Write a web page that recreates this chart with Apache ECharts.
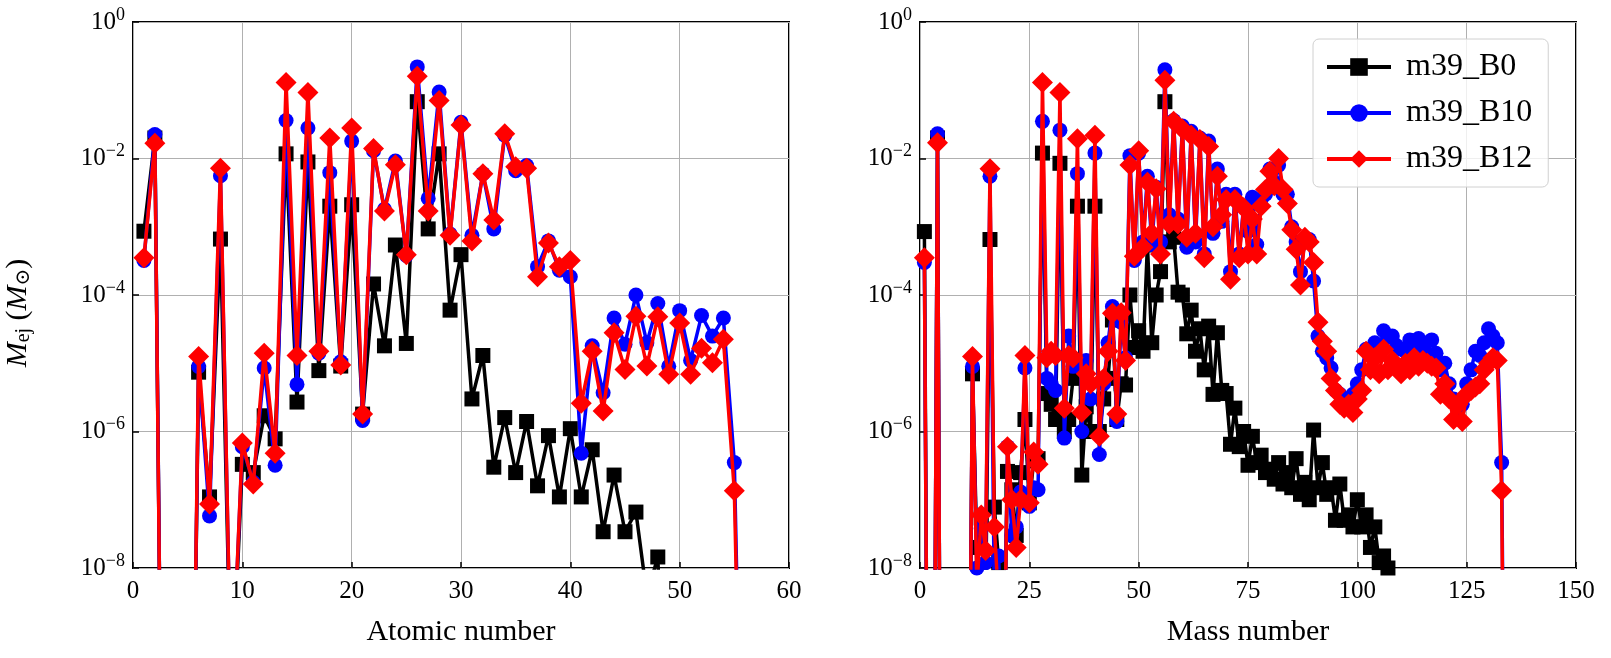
<!DOCTYPE html>
<html><head><meta charset="utf-8">
<script src="https://cdn.jsdelivr.net/npm/echarts@6/dist/echarts.min.js"></script>
<style>html,body{margin:0;padding:0;background:#fff;}#c{width:1611px;height:658px;}</style>
</head><body><div id="c"></div>
<script>
// ---------- data (left: by atomic number Z = 1..56) ----------
const atomicNumber = Array.from({length: 56}, (_, i) => i + 1);
const zB0 = [8.6e-4,2.0e-2,1e-17,1e-17,1e-17,7.4e-6,1.1e-7,6.6e-4,1e-10,3.3e-7,
  2.5e-7,1.7e-6,7.8e-7,1.17e-2,2.7e-6,8.9e-3,7.8e-6,2e-3,9.1e-6,2.1e-3,
  1.8e-6,1.45e-4,1.8e-5,5.4e-4,1.95e-5,6.8e-2,9.3e-4,1.17e-2,6e-5,3.9e-4,
  3e-6,1.3e-5,3e-7,1.6e-6,2.5e-7,1.4e-6,1.6e-7,8.7e-7,1.1e-7,1.1e-6,
  1.1e-7,5.4e-7,3.4e-8,2.3e-7,3.4e-8,6.6e-8,4e-9,1.45e-8,1e-12,1e-12,
  1e-12,1e-12,1e-12,1e-12,1e-12,1e-12];
const zB10 = [3.2e-4,2.25e-2,1e-17,1e-17,1e-17,9e-6,5.8e-8,5.6e-3,1e-10,6e-7,
  1.8e-7,8.5e-6,3.2e-7,3.6e-2,4.9e-6,2.8e-2,1.4e-5,6.2e-3,1.05e-5,1.8e-2,
  1.45e-6,1.3e-2,1.8e-3,9.2e-3,3.8e-4,2.2e-1,2.6e-3,9.4e-2,7.8e-4,3.4e-2,
  7.5e-4,6e-3,9.3e-4,2.2e-2,6.6e-3,7.9e-3,2.6e-4,6.2e-4,2.3e-4,1.85e-4,
  4.8e-7,1.8e-5,3.7e-6,4.6e-5,1.9e-5,1e-4,2e-5,7.5e-5,9e-6,5.9e-5,
  1.1e-5,5e-5,2.5e-5,4.6e-5,3.5e-7,1e-14];
const zB12 = [3.5e-4,1.67e-2,1e-17,1e-17,1e-17,1.26e-5,8.7e-8,7.2e-3,1e-10,6.8e-7,
  1.7e-7,1.4e-5,4.8e-7,1.3e-1,1.3e-5,9.3e-2,1.5e-5,2e-2,9.4e-6,2.8e-2,
  1.8e-6,1.4e-2,1.7e-3,8.1e-3,3.9e-4,1.6e-1,1.7e-3,7.1e-2,7.5e-4,3.1e-2,
  6.2e-4,6e-3,1.26e-3,2.3e-2,7.6e-3,7.2e-3,1.85e-4,5.8e-4,2.6e-4,3.2e-4,
  2.6e-6,1.5e-5,2e-6,2.8e-5,8.1e-6,4.9e-5,9.1e-6,4.8e-5,6.9e-6,3.9e-5,
  6.9e-6,1.66e-5,1.02e-5,2.24e-5,1.35e-7,1e-14];

// ---------- data (right: by mass number A = 1..135) ----------
const massNumber = Array.from({length: 135}, (_, i) => i + 1);
const aB0 = [8.5e-4,1e-14,1e-14,2e-2,1e-16,1e-14,1e-13,1e-16,1e-14,1e-14,
  1e-13,7e-6,2e-8,5.4e-8,3e-9,6.5e-4,7.8e-8,1.2e-8,1e-10,2.6e-7,
  1.4e-7,3e-8,2.5e-7,1.5e-6,9e-8,3.7e-7,4e-7,1.2e-2,3.6e-6,2.5e-6,
  1.5e-6,8.5e-3,1e-6,1.5e-6,6e-6,2e-3,2.3e-7,2.3e-6,1e-6,2e-3,
  1e-6,3e-6,6e-6,4.3e-5,1.5e-6,5e-6,4.8e-6,1e-4,1.7e-5,3e-5,
  1.5e-5,5.4e-4,2e-5,1e-4,2.2e-4,6.8e-2,6e-4,7e-4,1.1e-4,1e-4,
  2.7e-5,6e-5,1.5e-5,3.2e-5,8e-6,3.5e-5,3.5e-6,2.8e-5,4e-6,3.6e-6,
  6.5e-7,2.2e-6,6e-7,1e-6,3.2e-7,8.5e-7,3.5e-7,4.5e-7,2.5e-7,2.8e-7,
  2e-7,3.5e-7,1.7e-7,2.5e-7,1.5e-7,4e-7,1.2e-7,1.8e-7,1e-7,1.05e-6,
  1.5e-7,3.5e-7,1.2e-7,1.5e-7,5e-8,1.7e-7,5e-8,6e-8,4e-8,1e-7,
  4e-8,6e-8,2e-8,4e-8,1.2e-8,1.5e-8,1e-8,1e-9,1e-12,1e-12,
  1e-12,1e-12,1e-12,1e-12,1e-12,1e-12,1e-12,1e-12,1e-12,1e-12,
  1e-12,1e-12,1e-12,1e-12,1e-12,1e-12,1e-12,1e-12,1e-12,1e-12,
  1e-12,1e-12,1e-12,1e-12,1e-12];
const aB10 = [3e-4,1e-14,1e-14,2.3e-2,1e-16,1e-14,1e-13,1e-16,1e-14,1e-14,
  1e-13,9e-6,1e-8,3.8e-8,1.2e-8,5.5e-3,3e-9,1.5e-8,1e-11,6e-7,
  3e-8,4e-8,1.3e-7,8.5e-6,8e-8,1.5e-7,1.4e-7,3.5e-2,6e-6,5e-6,
  4e-6,2.6e-2,8e-7,2.5e-5,9e-6,6e-3,1e-6,1.1e-5,3e-6,1.2e-2,
  4.6e-7,5e-6,2e-5,6.8e-5,1.4e-6,4e-5,1.2e-5,1.1e-2,3.2e-4,1.2e-2,
  6e-4,5.5e-3,5.5e-4,3.8e-3,6e-4,2e-1,1.5e-3,3.6e-2,1.3e-3,3e-2,
  5e-4,2.5e-2,6e-4,2e-2,4e-4,1.8e-2,8e-4,7e-3,1.2e-3,3e-3,
  2.2e-4,3e-3,4e-4,2e-3,8.5e-4,2.7e-3,5.5e-4,2.5e-3,3e-3,7e-3,
  4.5e-3,8e-3,3e-3,3e-3,1e-3,6e-4,2.2e-4,6e-4,6.5e-4,1.6e-4,
  2.5e-5,1.5e-5,1.2e-5,8.5e-6,4e-6,3.5e-6,3e-6,2.5e-6,3.5e-6,5e-6,
  8e-6,1.6e-5,1.3e-5,2e-5,1.5e-5,3e-5,2.4e-5,2.5e-5,1.8e-5,1.6e-5,
  1.5e-5,2.2e-5,1.6e-5,2.3e-5,2e-5,1.4e-5,2.2e-5,1.4e-5,8e-6,1e-5,
  5e-6,3e-6,2e-6,2.5e-6,5e-6,8e-6,1.5e-5,1.3e-5,2e-5,3.2e-5,
  2.5e-5,2e-5,3.5e-7,1e-14,1e-14];
const aB12 = [3.5e-4,1e-14,1e-14,1.7e-2,1e-16,1e-14,1e-13,1e-16,1e-14,1e-14,
  1e-13,1.26e-5,5e-9,6e-8,1.8e-8,7.1e-3,4e-8,3e-9,1e-11,6e-7,
  1e-7,2e-8,1e-7,1.3e-5,9e-8,5e-7,3.3e-7,1.3e-1,1.2e-5,1.5e-5,
  1.3e-5,9.3e-2,2.2e-6,1.3e-5,1.2e-5,1.95e-2,1.9e-6,7e-6,5e-6,2.2e-2,
  8.5e-7,6e-6,1.5e-5,5.4e-5,1.8e-6,5.5e-5,1.1e-5,8e-3,3.7e-4,1.3e-2,
  5e-4,4.5e-3,8e-4,3.6e-3,4e-4,1.4e-1,1.1e-3,3.5e-2,1.1e-3,2.7e-2,
  7e-4,2.2e-2,8e-4,1.9e-2,3.5e-4,1.5e-2,1e-3,5.5e-3,1.5e-3,2.5e-3,
  1.7e-4,2.5e-3,3.5e-4,1.9e-3,4e-4,1.3e-3,4e-4,2e-3,3.5e-3,6.5e-3,
  4e-3,1e-2,3.5e-3,2.2e-3,9e-4,4.7e-4,1.4e-4,7e-4,6e-4,3e-4,
  4e-5,2.1e-5,1.5e-5,6e-6,4e-6,2.5e-6,2.2e-6,2.5e-6,1.9e-6,3e-6,
  4e-6,1.5e-5,8e-6,1.2e-5,7e-6,1.6e-5,8e-6,1.1e-5,8.5e-6,7e-6,
  1e-5,8e-6,1.2e-5,9e-6,1.1e-5,1e-5,9e-6,8.5e-6,3.5e-6,5e-6,
  3e-6,1.5e-6,2.5e-6,1.4e-6,3.5e-6,4e-6,4.5e-6,5e-6,8e-6,1e-5,
  1.2e-5,1.1e-5,1.35e-7,1e-14,1e-14];

const seriesNames = ['m39_B0', 'm39_B10', 'm39_B12'];
const yTickExponents = [0, -2, -4, -6, -8];
const leftXTicks = [0, 10, 20, 30, 40, 50, 60];
const rightXTicks = [0, 25, 50, 75, 100, 125, 150];

// ---------- chart ----------
const SERIF = '"Liberation Serif", "DejaVu Serif", serif';
const colors = ['#000000', '#0000ff', '#ff0000'];
const symbols = ['rect', 'circle', 'diamond'];
const symbolSizes = [15, 15, 21];

function pairs(xs, ys) { return xs.map((x, i) => [x, ys[i]]); }

function yLabel(v) {
  const e = Math.round(Math.log10(v));
  if (yTickExponents.indexOf(e) < 0) return '';
  return '{b|10}{s|' + (e < 0 ? '\u2212' + (-e) : String(e)) + '}';
}

function makeX(idx, ticks, name) {
  return {
    type: 'value', gridIndex: idx, min: ticks[0], max: ticks[ticks.length - 1],
    interval: ticks[1] - ticks[0],
    name: name, nameLocation: 'middle', nameGap: 49,
    nameTextStyle: {fontFamily: SERIF, fontSize: 30, color: '#000'},
    axisLine: {show: false},
    axisTick: {show: true, inside: true, length: 6, lineStyle: {color: '#000', width: 1.5}},
    axisLabel: {fontFamily: SERIF, fontSize: 25, color: '#000', margin: 11},
    splitLine: {show: true, lineStyle: {color: '#b0b0b0', width: 1}}
  };
}

function makeY(idx, withName) {
  const y = {
    type: 'log', gridIndex: idx, logBase: 10, min: 1e-8, max: 1, interval: 2,
    axisLine: {show: false},
    axisTick: {show: true, inside: true, length: 6, lineStyle: {color: '#000', width: 1.5}},
    axisLabel: {
      formatter: yLabel, color: '#000', margin: 8,
      rich: {
        b: {fontFamily: SERIF, fontSize: 25, color: '#000'},
        s: {fontFamily: SERIF, fontSize: 18, color: '#000', padding: [0, 0, 14, 0]}
      }
    },
    splitLine: {show: true, lineStyle: {color: '#b0b0b0', width: 1}}
  };
  if (withName) {
    y.name = '{i|M}{sub|ej}{r| (}{i|M}{sub|\u2299}{r|)}';
    y.nameLocation = 'middle';
    y.nameGap = 99;
    y.nameTextStyle = {
      color: '#000',
      padding: [0, 36, 0, 0],
      rich: {
        i: {fontFamily: SERIF, fontStyle: 'italic', fontSize: 30, color: '#000'},
        r: {fontFamily: SERIF, fontSize: 30, color: '#000'},
        sub: {fontFamily: SERIF, fontSize: 20, color: '#000', padding: [11, 0, 0, 0]}
      }
    };
  }
  return y;
}

const datasetsLeft = [zB0, zB10, zB12];
const datasetsRight = [aB0, aB10, aB12];
const series = [];
[0, 1].forEach(g => {
  const xs = g === 0 ? atomicNumber : massNumber;
  const ds = g === 0 ? datasetsLeft : datasetsRight;
  ds.forEach((ys, k) => {
    series.push({
      name: seriesNames[k], type: 'line', xAxisIndex: g, yAxisIndex: g,
      data: pairs(xs, ys), clip: true, z: 2 + k,
      symbol: symbols[k], symbolSize: symbolSizes[k], showSymbol: true,
      lineStyle: {color: colors[k], width: 3.5},
      itemStyle: {color: colors[k], borderWidth: 0},
      emphasis: {disabled: true}, animation: false
    });
  });
});

const chart = echarts.init(document.getElementById('c'), null, {renderer: 'canvas'});
chart.setOption({
  backgroundColor: '#ffffff',
  animation: false,
  grid: [
    {left: 133, top: 22, width: 656, height: 546, show: true, borderColor: '#000', borderWidth: 2, backgroundColor: 'transparent'},
    {left: 920, top: 22, width: 656, height: 546, show: true, borderColor: '#000', borderWidth: 2, backgroundColor: 'transparent'}
  ],
  xAxis: [makeX(0, leftXTicks, 'Atomic number'), makeX(1, rightXTicks, 'Mass number')],
  yAxis: [makeY(0, true), makeY(1, false)],
  legend: {
    data: seriesNames, orient: 'vertical', left: 1313, top: 39,
    itemWidth: 64, itemHeight: 22, itemGap: 14,
    padding: [12, 16, 12, 12],
    borderColor: '#d0d0d0', borderWidth: 1, borderRadius: 6,
    backgroundColor: 'rgba(255,255,255,0.8)',
    lineStyle: {width: 4},
    textStyle: {fontFamily: SERIF, fontSize: 32, color: '#000', padding: [0, 0, 0, 10]}
  },
  series: series
});
</script></body></html>
